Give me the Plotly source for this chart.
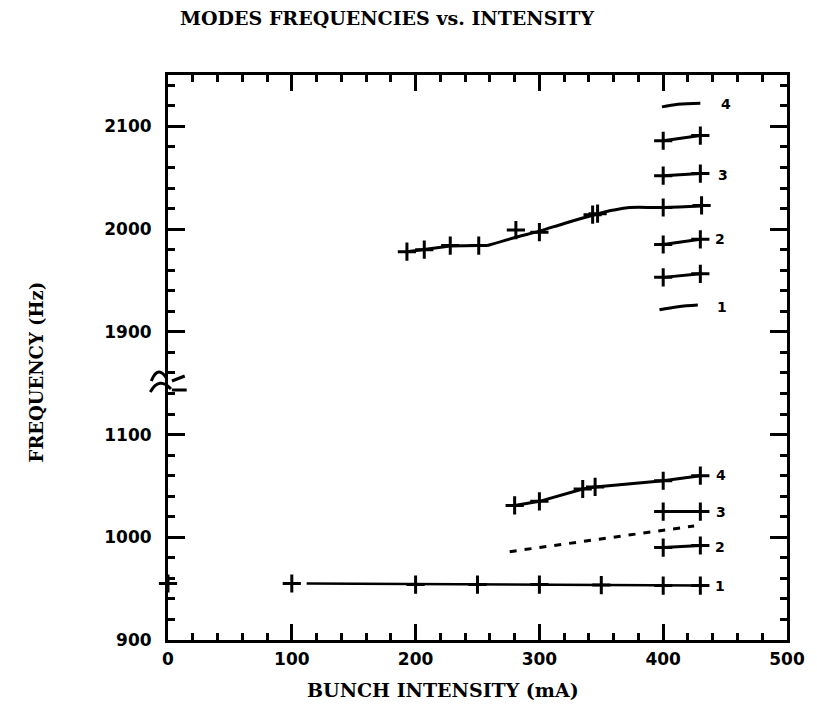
import plotly.graph_objects as go

# ---- lower band (900-1175 Hz) ----
low_m1_x = [100, 200, 250, 300, 350, 400, 430]
low_m1_y = [955, 954, 954, 954, 953.5, 953, 953]
low_m1_line_x = [112, 200, 250, 300, 350, 400, 430]
low_m1_line_y = [955, 954.5, 954, 954, 953.5, 953, 953]

low_m2_x = [400, 430]
low_m2_y = [990, 992]

low_dash_x = [276, 425]
low_dash_y = [986, 1011]

low_m3_x = [400, 430]
low_m3_y = [1025, 1025]

low_m4_x = [280, 300, 335, 345, 400, 430]
low_m4_y = [1031, 1035, 1047, 1049, 1055, 1060]

axis_mark_x = [0]
axis_mark_y = [955]

# ---- upper band (1875-2150 Hz) ----
up_main_x = [193, 207, 228, 251, 281, 300, 343, 347, 400, 431]
up_main_y = [1978, 1980, 1984, 1984, 1999, 1997, 2014, 2015, 2021, 2023]
up_main_seg1_x = [193, 207, 228, 251]
up_main_seg1_y = [1978, 1980, 1983.5, 1984]
up_main_curve_x = [258, 281, 300, 320, 343, 360, 373, 400, 431]
up_main_curve_y = [1984, 1992, 1998, 2005.5, 2013.5, 2018.5, 2021, 2021, 2022.5]

up_m1_x = [397, 412, 428]
up_m1_y = [1921.5, 1924.5, 1926]
up_m2b_x = [400, 430]
up_m2b_y = [1953, 1956.5]
up_m2_x = [400, 430]
up_m2_y = [1985, 1990]
up_m3_x = [400, 430]
up_m3_y = [2052, 2054]
up_m3b_x = [400, 430]
up_m3b_y = [2086, 2091]
up_m4_x = [399, 412, 430]
up_m4_y = [2119, 2121.5, 2122.5]

# mode number labels at the right end of each branch
low_label_text = ["4", "3", "2", "1"]
low_label_x = [441, 441, 440, 440]
low_label_y = [1061, 1025, 991, 953]
up_label_text = ["4", "3", "2", "1"]
up_label_x = [445, 443, 440, 442]
up_label_y = [2122, 2053, 1990, 1924]

x_ticks = [0, 100, 200, 300, 400, 500]
low_ticks = [900, 1000, 1100]
up_ticks = [1900, 2000, 2100]

INK = "black"
LW = 3

fig = go.Figure()


def marks(x, y, yaxis):
    fig.add_trace(go.Scatter(
        x=x, y=y, mode="markers", yaxis=yaxis, cliponaxis=False,
        marker=dict(symbol="cross-thin", size=13,
                    line=dict(width=3, color=INK)),
        showlegend=False, hoverinfo="skip"))


def line(x, y, yaxis, width=LW, dash="solid", shape="linear"):
    fig.add_trace(go.Scatter(
        x=x, y=y, mode="lines", yaxis=yaxis,
        line=dict(color=INK, width=width, dash=dash, shape=shape),
        showlegend=False, hoverinfo="skip"))


# lower band
line(low_m1_line_x, low_m1_line_y, "y", width=2.5)
marks(low_m1_x, low_m1_y, "y")
marks(axis_mark_x, axis_mark_y, "y")
line(low_m2_x, low_m2_y, "y")
marks(low_m2_x, low_m2_y, "y")
line(low_dash_x, low_dash_y, "y", dash="7px,8px")
line(low_m3_x, low_m3_y, "y")
marks(low_m3_x, low_m3_y, "y")
line(low_m4_x, low_m4_y, "y")
marks(low_m4_x, low_m4_y, "y")

# upper band
line(up_main_seg1_x, up_main_seg1_y, "y2")
line(up_main_curve_x, up_main_curve_y, "y2", shape="spline")
marks(up_main_x, up_main_y, "y2")
line(up_m1_x, up_m1_y, "y2", shape="spline")
line(up_m2b_x, up_m2b_y, "y2")
marks(up_m2b_x, up_m2b_y, "y2")
line(up_m2_x, up_m2_y, "y2")
marks(up_m2_x, up_m2_y, "y2")
line(up_m3_x, up_m3_y, "y2")
marks(up_m3_x, up_m3_y, "y2")
line(up_m3b_x, up_m3b_y, "y2")
marks(up_m3b_x, up_m3b_y, "y2")
line(up_m4_x, up_m4_y, "y2", shape="spline")

label_font = dict(family="DejaVu Sans", size=14, color=INK, weight="bold")
annotations = []
for t, xx, yy in zip(low_label_text, low_label_x, low_label_y):
    annotations.append(dict(x=xx, y=yy, xref="x", yref="y", text=t,
                            showarrow=False, xanchor="left", font=label_font))
for t, xx, yy in zip(up_label_text, up_label_x, up_label_y):
    annotations.append(dict(x=xx, y=yy, xref="x", yref="y2", text=t,
                            showarrow=False, xanchor="left", font=label_font))

title_font = dict(family="DejaVu Serif", size=19, color=INK, weight="bold")
annotations.append(dict(text="MODES FREQUENCIES vs. INTENSITY",
                        x=0.3545, y=1.101, xref="paper", yref="paper",
                        showarrow=False, xanchor="center", yanchor="middle",
                        font=dict(family="DejaVu Serif", size=19,
                                  color=INK, weight="bold")))
annotations.append(dict(text="BUNCH INTENSITY (mA)",
                        x=0.4436, y=-0.0885, xref="paper", yref="paper",
                        showarrow=False, xanchor="center", yanchor="middle",
                        font=title_font))
annotations.append(dict(text="FREQUENCY (Hz)",
                        x=-0.212, y=0.475, xref="paper", yref="paper",
                        showarrow=False, textangle=-90,
                        xanchor="center", yanchor="middle",
                        font=dict(family="DejaVu Serif", size=18,
                                  color=INK, weight="bold")))


# axis-break symbol on the left frame (pixel -> paper helpers)
def px(v):
    return (v - 168) / 629


def py(v):
    return (640 - v) / 565


break_paths = [
    f"M {px(151)},{py(381)} Q {px(158)},{py(364)} {px(167)},{py(379)}",
    f"M {px(150)},{py(392)} Q {px(159)},{py(376)} {px(171)},{py(389)}",
    f"M {px(172)},{py(381)} L {px(185)},{py(376)}",
    f"M {px(172)},{py(390)} L {px(187)},{py(390)}",
]
shapes = [dict(type="path", path=p, xref="paper", yref="paper",
               line=dict(color=INK, width=3)) for p in break_paths]

tick_font = dict(family="DejaVu Sans", size=17, color=INK, weight="bold")
common_y = dict(showline=True, linecolor=INK, linewidth=LW, mirror="ticks",
                ticks="inside", ticklen=17, tickwidth=3, tickcolor=INK,
                showgrid=False, zeroline=False, tickfont=tick_font,
                ticklabelstandoff=10,
                minor=dict(dtick=20, ticks="inside", ticklen=7,
                           tickwidth=2.5, tickcolor=INK, showgrid=False))
common_x = dict(showline=True, linecolor=INK, linewidth=LW,
                ticks="inside", ticklen=16, tickwidth=3, tickcolor=INK,
                showgrid=False, zeroline=False, range=[0, 500],
                tickvals=x_ticks,
                minor=dict(dtick=20, ticks="inside", ticklen=7,
                           tickwidth=2.5, tickcolor=INK, showgrid=False))

fig.update_layout(
    width=817, height=707,
    margin=dict(l=168, r=20, t=75, b=67),
    paper_bgcolor="white", plot_bgcolor="white",
    xaxis=dict(**common_x, anchor="y", tickfont=tick_font,
               ticklabelstandoff=2),
    xaxis2=dict(**common_x, anchor="y2", side="top", overlaying="x",
                showticklabels=False),
    yaxis=dict(**common_y, domain=[0, 0.5], range=[900, 1175],
               tickvals=low_ticks, anchor="x"),
    yaxis2=dict(**common_y, domain=[0.5, 1], range=[1875, 2150],
                tickvals=up_ticks, anchor="x"),
    annotations=annotations,
    shapes=shapes,
)

# empty trace so the top axis is drawn
fig.add_trace(go.Scatter(x=[None], y=[None], xaxis="x2", yaxis="y2",
                         showlegend=False, hoverinfo="skip"))

fig.write_html("out.html")
